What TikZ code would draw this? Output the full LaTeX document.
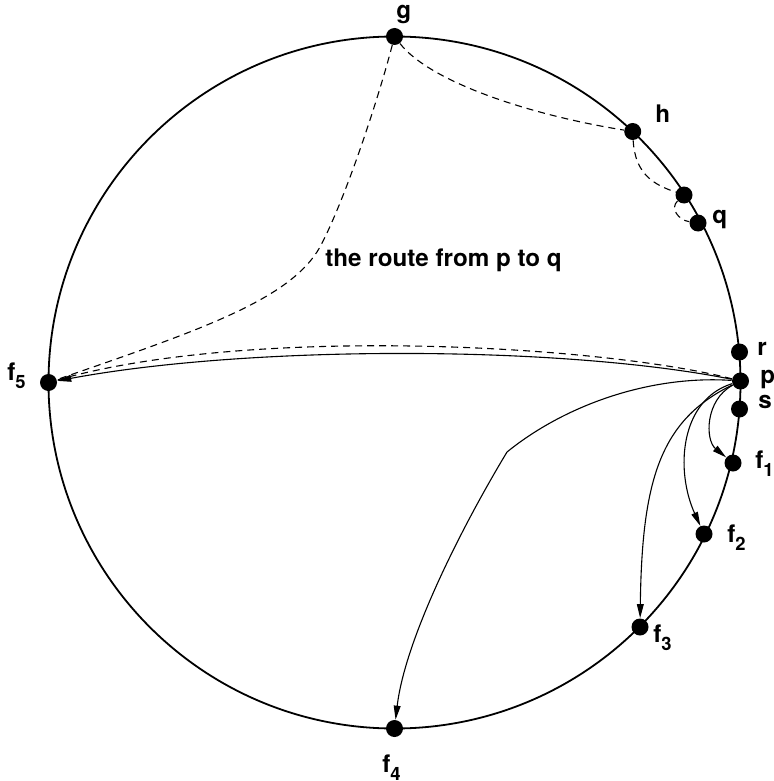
\documentclass[tikz,border=0pt]{standalone}
\usepackage{fontspec}
\setmainfont{TeX Gyre Heros}
\usepackage{tikz}
\usetikzlibrary{arrows.meta}
\newcommand{\fidx}[1]{\raisebox{-4pt}{\fontsize{9.2}{9}\selectfont#1}}
\tikzset{
  ring/.style={line width=0.9pt},
  dot/.style={circle, fill=black, inner sep=0pt, minimum size=8.5pt},
  lbl/.style={font=\bfseries\fontsize{12.1}{14}\selectfont,
    inner sep=0pt, anchor=base west},
  link/.style={-{Triangle[length=7pt,width=3.4pt]}, line width=0.55pt},
  route/.style={dash pattern=on 3.5pt off 2.5pt, line width=0.55pt}
}

\begin{document}
\begin{tikzpicture}[x=0.5pt, y=-0.5pt]
  \useasboundingbox (0,0) rectangle (773,781);

  % The ring
  \draw[ring] (394.5,382.5) circle[radius=173pt];

  % Points on the ring
  \node[dot] (g)  at (394.5,36.5) {};
  \node[dot] (h)  at (632.7,131.5) {};
  \node[dot] (hq) at (684,195) {};
  \node[dot] (q)  at (698,223) {};
  \node[dot] (r)  at (739.5,352) {};
  \node[dot] (p)  at (740.5,381) {};
  \node[dot] (s)  at (739.5,409) {};
  \node[dot] (f1) at (733,463) {};
  \node[dot] (f2) at (704,534) {};
  \node[dot] (f3) at (640,627) {};
  \node[dot] (f4) at (394.5,728.5) {};
  \node[dot] (f5) at (48.5,382.5) {};

  % Labels
  \node[lbl] (lg)  at (396,19)  {g};
  \node[lbl] (lh)  at (655,123) {h};
  \node[lbl] (lq)  at (712,223) {q};
  \node[lbl] (lr)  at (757,355) {r};
  \node[lbl] (lp)  at (760,383) {p};
  \node[lbl] (ls)  at (758,408) {s};
  \node[lbl] (lf1) at (755,468) {f\fidx{1}};
  \node[lbl] (lf2) at (727,542) {f\fidx{2}};
  \node[lbl] (lf3) at (653,642) {f\fidx{3}};
  \node[lbl] (lf4) at (382,772) {f\fidx{4}};
  \node[lbl] (lf5) at (7,380)   {f\fidx{5}};
  \node[lbl] (note) at (325,266) {the route from p to q};

  % Jumps out of p
  \coordinate (bend) at (507,452);
  \draw[link] (p) .. controls (705,400) and (705,440) .. (f1);
  \draw[link] (p) .. controls (680,400) and (675,470) .. (f2);
  \draw[link] (p) .. controls (660,420) and (642,480) .. (f3);
  \draw[link] (p) .. controls (650,375) and (565,405) .. (bend)
    .. controls (460,530) and (405,640) .. (f4);
  \draw[link] (p) .. controls (560,345) and (250,345) .. (f5);

  % Route p -> f5 -> g -> h -> q
  \coordinate (turn) at (320,247);
  \draw[route] (p) .. controls (600,345) and (250,325) .. (f5);
  \draw[route] (g) .. controls (378,100) and (345,200) .. (turn)
    .. controls (290,300) and (200,330) .. (f5);
  \draw[route] (g) .. controls (430,82) and (530,115) .. (h);
  \draw[route] (h) .. controls (635,175) and (655,185) .. (hq);
  \draw[route] (hq) .. controls (670,208) and (678,220) .. (q);
\end{tikzpicture}
\end{document}
